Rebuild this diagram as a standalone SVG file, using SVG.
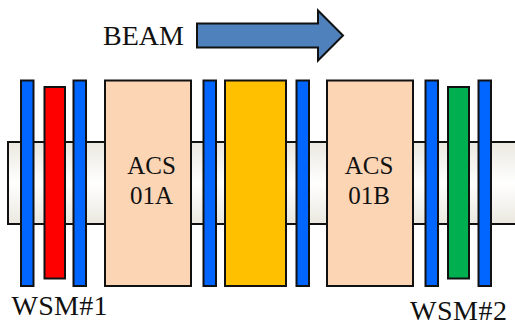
<svg xmlns="http://www.w3.org/2000/svg" width="515" height="322" viewBox="0 0 515 322">
<defs>
<linearGradient id="pipeGrad" x1="0" y1="0" x2="0" y2="1">
<stop offset="0" stop-color="#eae8df"/>
<stop offset="0.5" stop-color="#ffffff"/>
<stop offset="1" stop-color="#eae8df"/>
</linearGradient>
</defs>
<style>
.s{stroke:#111;stroke-width:2}
.wire{fill:#0066ff}
.acs{fill:#fcd5b5}
text{font-family:"Liberation Serif","Times New Roman",serif;fill:#111;font-size:28px}
.m{text-anchor:middle;font-size:25px}
</style>
<g id="pipe"><rect class="s" x="8" y="142" width="520" height="82" fill="url(#pipeGrad)"/></g>
<g id="beam-label"><text x="103" y="45">BEAM</text></g>
<g id="beam-arrow"><path class="s" fill="#4f81bd" d="M197 23.500H318V10.500L343 35.500L318 60.500V47.500H197Z"/></g>
<g id="blue-1"><rect class="s wire" x="21" y="80.500" width="12.500" height="205.500"/></g>
<g id="red"><rect class="s" fill="#ff0000" x="44.500" y="87" width="20.500" height="191.500"/></g>
<g id="blue-2"><rect class="s wire" x="73.500" y="80.500" width="12.500" height="205.500"/></g>
<g id="acs01a"><rect class="s acs" x="105" y="80.500" width="86" height="205.500"/>
<text class="m" x="151.500" y="174">ACS</text><text class="m" x="151.500" y="204">01A</text></g>
<g id="blue-3"><rect class="s wire" x="203.500" y="80.500" width="12.500" height="205.500"/></g>
<g id="orange"><rect class="s" fill="#ffc000" x="225" y="80.500" width="61" height="205.500"/></g>
<g id="blue-4"><rect class="s wire" x="296.500" y="80.500" width="12.500" height="205.500"/></g>
<g id="acs01b"><rect class="s acs" x="327" y="80.500" width="86" height="205.500"/>
<text class="m" x="369" y="174">ACS</text><text class="m" x="369" y="204">01B</text></g>
<g id="blue-5"><rect class="s wire" x="425.500" y="80.500" width="12.500" height="205.500"/></g>
<g id="green"><rect class="s" fill="#00b050" x="448" y="87" width="21" height="191.500"/></g>
<g id="blue-6"><rect class="s wire" x="478.500" y="80.500" width="12.500" height="205.500"/></g>
<g id="wsm1"><text x="11.500" y="315" textLength="96">WSM#1</text></g>
<g id="wsm2"><text x="410" y="320" textLength="97">WSM#2</text></g>
</svg>
